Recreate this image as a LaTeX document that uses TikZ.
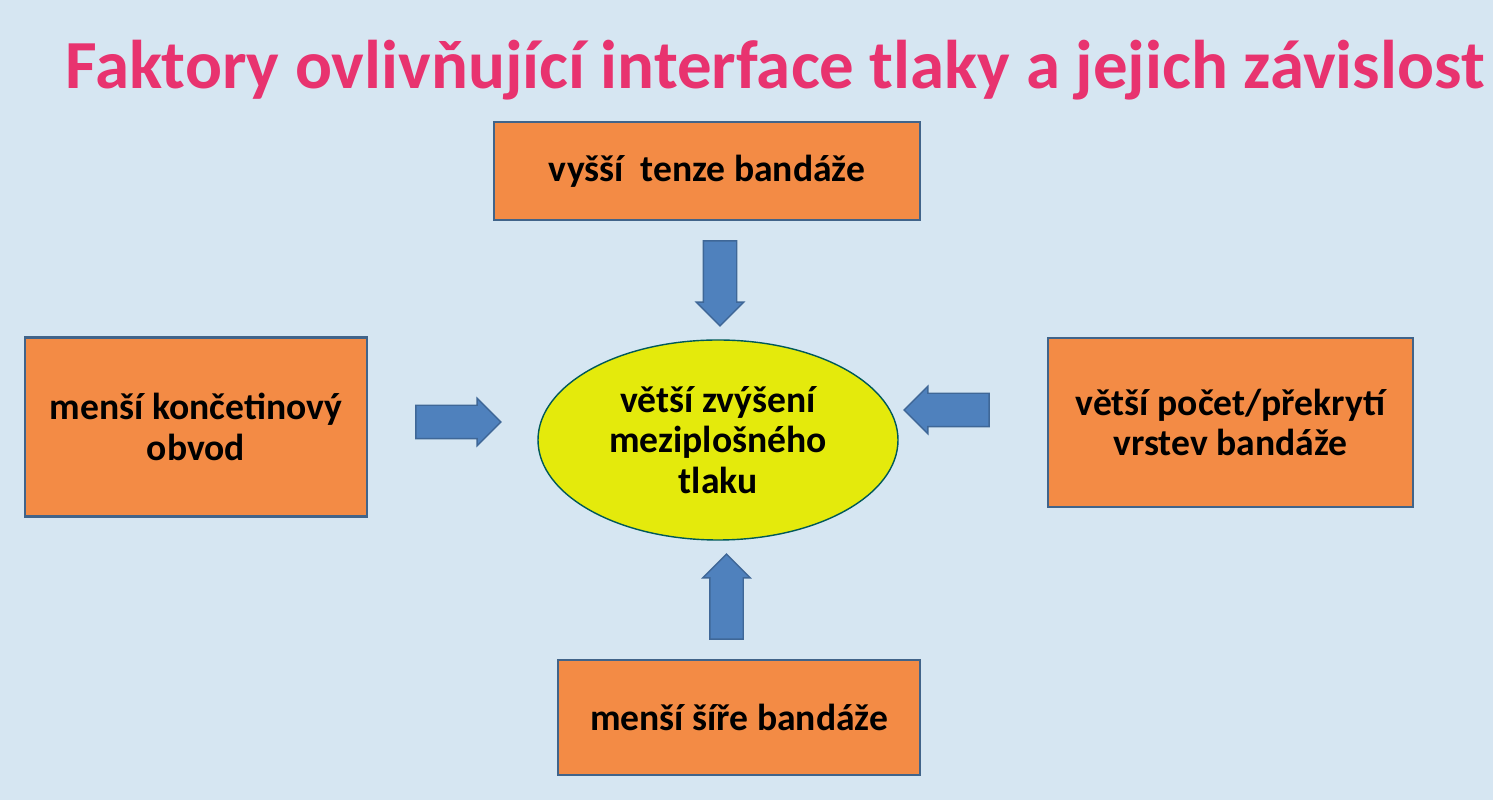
\documentclass[tikz,border=0pt]{standalone}
\usepackage{fontspec}
\setmainfont{Carlito}
\usetikzlibrary{shapes.geometric,shapes.arrows}
\definecolor{bgblue}{HTML}{D6E6F2}
\definecolor{boxorange}{HTML}{F38B45}
\definecolor{boxline}{HTML}{41648A}
\definecolor{titlepink}{HTML}{E8336F}
\definecolor{ellyellow}{HTML}{E4EA0C}
\definecolor{arrowblue}{HTML}{4F81BD}
\tikzset{
  factor/.style={draw=boxline, line width=0.8pt, fill=boxorange, align=center, font=\bfseries\fontsize{10.7}{11.6}\selectfont},
  blockarrow/.style={single arrow, fill=arrowblue, draw=arrowblue!80!black, line width=0.4pt, minimum height=0.85cm, minimum width=0.46cm, single arrow head extend=0.07cm, inner sep=0.16cm}
}
\begin{document}
\begin{tikzpicture}
    \fill[bgblue] (0,0) rectangle (14.93,8);
    \useasboundingbox (0,0) rectangle (14.93,8);
    %title
    \node[text=titlepink, font=\bfseries\fontsize{19.6}{22}\selectfont] (title) at (7.75,7.3) {Faktory ovlivňující interface tlaky a jejich závislost};
    %centre
    \node[ellipse, draw=teal!70!black, fill=ellyellow, minimum width=3.6cm, minimum height=2cm, align=center, font=\bfseries\fontsize{10.7}{11.6}\selectfont] (centre) at (7.18,3.6) {větší zvýšení\\ meziplošného\\ tlaku};
    %factors
    \node[factor, minimum width=4.26cm, minimum height=0.98cm] (tension) at (7.07,6.29) {vyšší\ \ tenze bandáže};
    \node[factor, minimum width=3.42cm, minimum height=1.79cm] (limb) at (1.96,3.73) {menší končetinový\\ obvod};
    \node[factor, minimum width=3.65cm, minimum height=1.69cm] (layers) at (12.305,3.775) {větší počet/překrytí\\ vrstev bandáže};
    \node[factor, minimum width=3.62cm, minimum height=1.15cm] (width) at (7.39,0.825) {menší šíře bandáže};
    %arrows
    \node[blockarrow, rotate=-90] (atop) at (7.2,5.25) {};
    \node[blockarrow] (aleft) at (4.5,3.78) {};
    \node[blockarrow, rotate=180] (aright) at (9.55,3.9) {};
    \node[blockarrow, rotate=90] (abottom) at (7.265,1.95) {};
\end{tikzpicture}
\end{document}
